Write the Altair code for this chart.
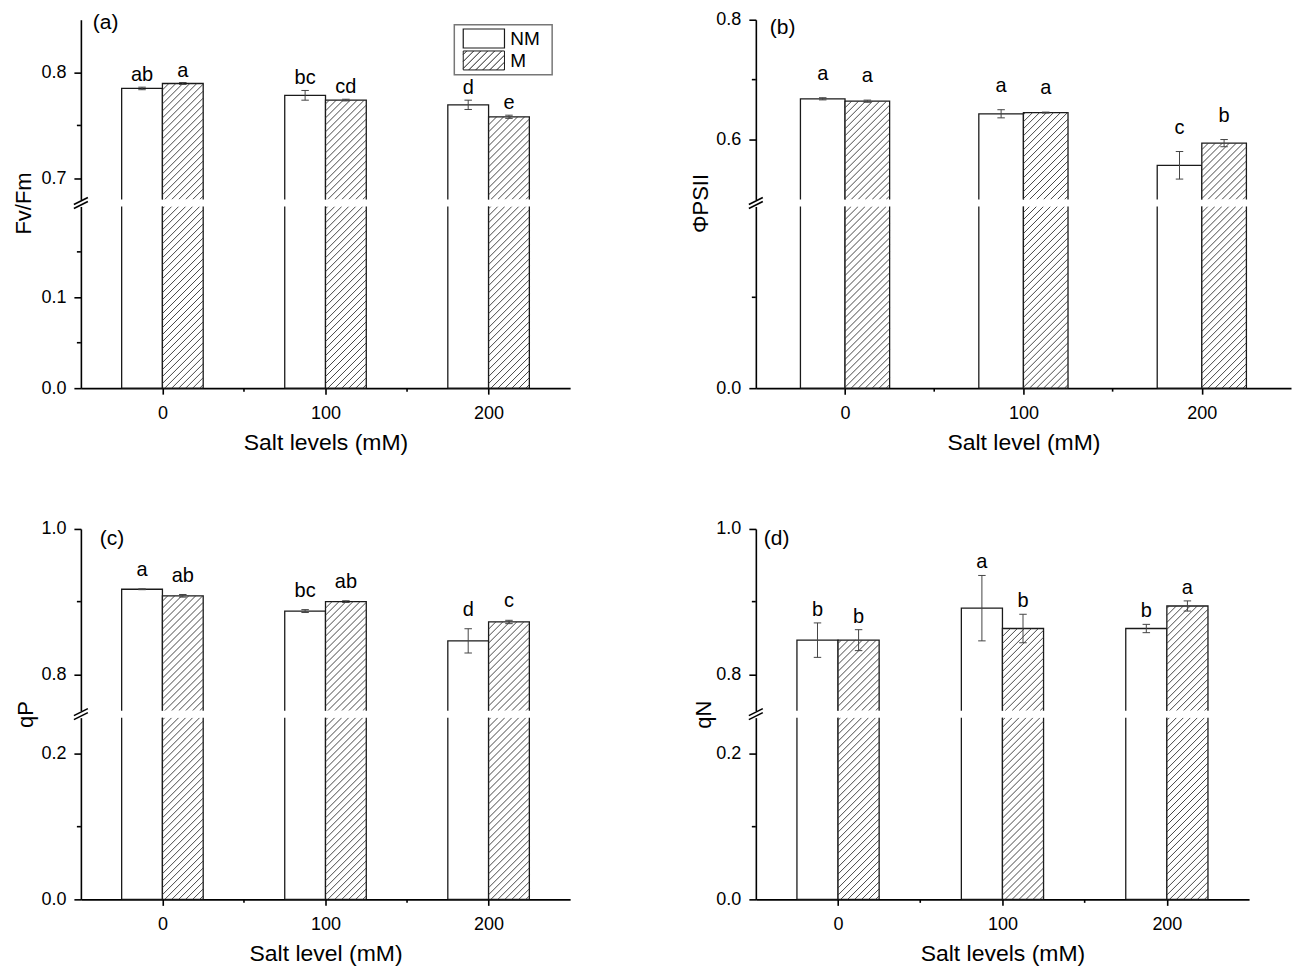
import altair as alt
import pandas as pd

# ---------------- data ----------------
salt_levels = [0, 100, 200]
treatments = ["NM", "M"]

fvfm_nm = [0.785, 0.7785, 0.7695]
fvfm_nm_err = [0.0012, 0.0046, 0.0044]
fvfm_m = [0.7897, 0.774, 0.7582]
fvfm_m_err = [0.0009, 0.0008, 0.0015]
fvfm_nm_letters = ["ab", "bc", "d"]
fvfm_m_letters = ["a", "cd", "e"]

phi_nm = [0.668, 0.643, 0.557]
phi_nm_err = [0.0018, 0.0068, 0.023]
phi_m = [0.664, 0.645, 0.594]
phi_m_err = [0.0018, 0.0008, 0.006]
phi_nm_letters = ["a", "a", "c"]
phi_m_letters = ["a", "a", "b"]

qp_nm = [0.917, 0.887, 0.846]
qp_nm_err = [0.0006, 0.002, 0.0167]
qp_m = [0.908, 0.900, 0.872]
qp_m_err = [0.0018, 0.0012, 0.0023]
qp_nm_letters = ["a", "bc", "d"]
qp_m_letters = ["ab", "ab", "c"]

qn_nm = [0.847, 0.891, 0.863]
qn_nm_err = [0.0237, 0.045, 0.0057]
qn_m = [0.847, 0.863, 0.894]
qn_m_err = [0.0144, 0.0196, 0.007]
qn_nm_letters = ["b", "a", "b"]
qn_m_letters = ["b", "b", "a"]

x_ticks = [0, 100, 200]
x_minor_ticks = [50, 150]

# ---------------- layout / style ----------------
FONT = "Liberation Sans"
GAP = 7
H_LO = 182
ROW_GAP = 141
COL_GAP = 186
BAR_W = 25
HATCH_STEP = 7.0
INK = "#1a1a1a"

panels = [
    dict(tag="(a)", ylabel="Fv/Fm", xlabel="Salt levels (mM)",
         nm=fvfm_nm, nm_err=fvfm_nm_err, m=fvfm_m, m_err=fvfm_m_err,
         nm_let=fvfm_nm_letters, m_let=fvfm_m_letters,
         up_dom=[0.68, 0.85], up_major=[0.7, 0.8], up_minor=[0.75],
         lo_dom=[0.0, 0.2], lo_major=[0.0, 0.1], lo_minor=[0.05, 0.15],
         W=490, H=180, tx=-57, dy=6, lx=12, ly=3, legend=True),
    dict(tag="(b)", ylabel="ΦPSII", xlabel="Salt level (mM)",
         nm=phi_nm, nm_err=phi_nm_err, m=phi_m, m_err=phi_m_err,
         nm_let=phi_nm_letters, m_let=phi_m_letters,
         up_dom=[0.5, 0.8], up_major=[0.6, 0.8], up_minor=[0.7],
         lo_dom=[0.0, 0.2], lo_major=[0.0], lo_minor=[0.1],
         W=536, H=180, tx=-55, dy=18, lx=14, ly=8, legend=False),
    dict(tag="(c)", ylabel="qP", xlabel="Salt level (mM)",
         nm=qp_nm, nm_err=qp_nm_err, m=qp_m, m_err=qp_m_err,
         nm_let=qp_nm_letters, m_let=qp_m_letters,
         up_dom=[0.75, 1.0], up_major=[0.8, 1.0], up_minor=[0.9],
         lo_dom=[0.0, 0.25], lo_major=[0.0, 0.2], lo_minor=[0.1],
         W=490, H=182, tx=-55, dy=13, lx=19, ly=10, legend=False),
    dict(tag="(d)", ylabel="qN", xlabel="Salt levels (mM)",
         nm=qn_nm, nm_err=qn_nm_err, m=qn_m, m_err=qn_m_err,
         nm_let=qn_nm_letters, m_let=qn_m_letters,
         up_dom=[0.75, 1.0], up_major=[0.8, 1.0], up_minor=[0.9],
         lo_dom=[0.0, 0.25], lo_major=[0.0, 0.2], lo_minor=[0.1],
         W=494, H=182, tx=-52, dy=7, lx=8, ly=10, legend=False),
]


def hatch(x0, x1, ylo, yhi, kx, ky, step=HATCH_STEP):
    """45-degree '/' hatch lines clipped to the bar rectangle (data units)."""
    w = (x1 - x0) * kx
    h = (yhi - ylo) * ky
    segs = []
    c = -w + step / 2.0
    while c < h:
        xs = max(0.0, -c)
        xe = min(w, h - c)
        if xe > xs:
            segs.append(dict(hx1=x0 + xs / kx, hy1=ylo + (xs + c) / ky,
                             hx2=x0 + xe / kx, hy2=ylo + (xe + c) / ky))
        c += step
    return segs


def symbol_paths():
    hy = 0.46
    rect = f"M-1,-{hy}H1V{hy}H-1Z"
    step = HATCH_STEP / 20.65
    hatch_p = rect
    c = -1 - hy + step / 2
    while c < 1 + hy:
        xs = max(-1.0, c - hy)
        xe = min(1.0, c + hy)
        if xe > xs:
            hatch_p += f"M{xs:.3f},{c - xs:.3f}L{xe:.3f},{c - xe:.3f}"
        c += step
    return rect, hatch_p


RECT_PATH, HATCH_PATH = symbol_paths()
one_row = pd.DataFrame({"k": [0]})


def axis_common():
    return dict(grid=False, domainColor="black", tickColor="black",
                domainWidth=1.6, tickWidth=1.6, labelColor="black",
                labelFontSize=18, labelFont=FONT, titleFont=FONT,
                titleColor="black", titleFontWeight="normal")


def make_panel(p):
    W, H = p["W"], p["H"]
    kx = W / 300.0
    rows = []
    for i, s in enumerate(salt_levels):
        for g, vals, errs, lets, off in (
            ("NM", p["nm"], p["nm_err"], p["nm_let"], -BAR_W),
            ("M", p["m"], p["m_err"], p["m_let"], 0),
        ):
            rows.append(dict(salt=s, group=g, value=vals[i], err=errs[i],
                             letter=lets[i], x0=s + off, x1=s + off + BAR_W,
                             xc=s + off + BAR_W / 2, lo=vals[i] - errs[i],
                             hi=vals[i] + errs[i], zero=0.0))
    df = pd.DataFrame(rows)

    ud0, ud1 = p["up_dom"]
    ld0, ld1 = p["lo_dom"]
    ky_u = H / (ud1 - ud0)
    ky_l = H_LO / (ld1 - ld0)
    hu, hl = [], []
    for r in rows:
        if r["group"] == "M":
            hu += hatch(r["x0"], r["x1"], ud0, r["value"], kx, ky_u)
            hl += hatch(r["x0"], r["x1"], ld0, ld1, kx, ky_l)
    hu = pd.DataFrame(hu)
    hl = pd.DataFrame(hl)

    xs = alt.Scale(domain=[-50, 250], nice=False, zero=False)
    ysu = alt.Scale(domain=p["up_dom"], nice=False, zero=False)
    ysl = alt.Scale(domain=p["lo_dom"], nice=False, zero=False)

    yaxis_u = alt.Axis(values=p["up_major"], format=".1f", title=p["ylabel"],
                       titleX=p["tx"], titleY=H + GAP / 2, titleBaseline="middle",
                       titleAngle=270, titleFontSize=22, tickSize=7,
                       labelPadding=8, **axis_common())
    yaxis_l = alt.Axis(values=p["lo_major"], format=".1f", title=None,
                       tickSize=7, labelPadding=8, **axis_common())
    xaxis_l = alt.Axis(values=x_ticks, format="d", title=p["xlabel"],
                       titleX=W / 2, titleY=54, titleBaseline="middle",
                       titleFontSize=23, tickSize=6, labelPadding=10,
                       **axis_common())

    def XU(f):
        return alt.X(f, type="quantitative", scale=xs, axis=None)

    def YU(f):
        return alt.Y(f, type="quantitative", scale=ysu, axis=yaxis_u)

    def XL(f):
        return alt.X(f, type="quantitative", scale=xs, axis=xaxis_l)

    def YL(f):
        return alt.Y(f, type="quantitative", scale=ysl, axis=yaxis_l)

    # ---------- upper segment ----------
    bars_u = alt.Chart(df).mark_rect(fill="white", stroke=INK, strokeWidth=1.3,
                                     clip=True).encode(
        x=XU("x0"), x2=alt.X2("x1"), y=YU("value"), y2=alt.Y2("zero"))
    hatch_u = alt.Chart(hu).mark_rule(stroke="#333333", strokeWidth=0.9,
                                      clip=True).encode(
        x=XU("hx1"), y=YU("hy1"), x2=alt.X2("hx2"), y2=alt.Y2("hy2"))
    err = alt.Chart(df).mark_rule(stroke="#444444", strokeWidth=1).encode(
        x=XU("xc"), y=YU("lo"), y2=alt.Y2("hi"))
    cap_lo = alt.Chart(df).mark_point(shape="M-1,0L1,0", size=56, filled=False,
                                      stroke="#444444", strokeWidth=1,
                                      opacity=1).encode(x=XU("xc"), y=YU("lo"))
    cap_hi = alt.Chart(df).mark_point(shape="M-1,0L1,0", size=56, filled=False,
                                      stroke="#444444", strokeWidth=1,
                                      opacity=1).encode(x=XU("xc"), y=YU("hi"))
    letters = alt.Chart(df).mark_text(fontSize=20, font=FONT, baseline="alphabetic",
                                      dy=-p["dy"], color="black").encode(
        x=XU("xc"), y=YU("hi"), text="letter:N")
    minor_u = alt.Chart(pd.DataFrame({"v": p["up_minor"]})).mark_rule(
        stroke="black", strokeWidth=1.6).encode(
        y=YU("v"), x=alt.value(0), x2=alt.value(-4))
    tag = alt.Chart(pd.DataFrame({"t": [p["tag"]]})).mark_text(
        fontSize=21, font=FONT, align="left", baseline="middle",
        color="black").encode(x=alt.value(p["lx"]), y=alt.value(p["ly"]),
                              text="t:N")
    c1 = H + 1.5
    c2 = H + GAP - 1.5
    brk1 = alt.Chart(one_row).mark_rule(stroke="black", strokeWidth=1.6).encode(
        x=alt.value(-7), x2=alt.value(7), y=alt.value(c1 + 3.5), y2=alt.value(c1 - 3.5))
    brk2 = alt.Chart(one_row).mark_rule(stroke="black", strokeWidth=1.6).encode(
        x=alt.value(-7), x2=alt.value(7), y=alt.value(c2 + 3.5), y2=alt.value(c2 - 3.5))

    layers = [bars_u, hatch_u, err, cap_lo, cap_hi, letters, minor_u, tag, brk1, brk2]

    if p["legend"]:
        frame = alt.Chart(one_row).mark_rect(fill="white", stroke="#777777",
                                             strokeWidth=1.5).encode(
            x=alt.value(374), x2=alt.value(472), y=alt.value(5), y2=alt.value(55))
        sym_nm = alt.Chart(one_row).mark_point(
            shape=RECT_PATH, size=1706, filled=True, fill="white", stroke=INK,
            strokeWidth=1.2, opacity=1).encode(x=alt.value(403.6), y=alt.value(18.8))
        sym_m = alt.Chart(one_row).mark_point(
            shape=HATCH_PATH, size=1706, filled=True, fill="white", stroke=INK,
            strokeWidth=1.0, opacity=1).encode(x=alt.value(403.6), y=alt.value(40.8))
        txt_nm = alt.Chart(pd.DataFrame({"t": [treatments[0]]})).mark_text(
            fontSize=19, font=FONT, align="left", baseline="middle",
            color="black").encode(x=alt.value(430), y=alt.value(19), text="t:N")
        txt_m = alt.Chart(pd.DataFrame({"t": [treatments[1]]})).mark_text(
            fontSize=19, font=FONT, align="left", baseline="middle",
            color="black").encode(x=alt.value(430), y=alt.value(41.5), text="t:N")
        layers += [frame, sym_nm, sym_m, txt_nm, txt_m]

    upper = alt.layer(*layers).properties(width=W, height=H)

    # ---------- lower segment ----------
    bars_l = alt.Chart(df).mark_rect(fill="white", stroke=INK, strokeWidth=1.3,
                                     clip=True).encode(
        x=XL("x0"), x2=alt.X2("x1"), y=YL("value"), y2=alt.Y2("zero"))
    hatch_l = alt.Chart(hl).mark_rule(stroke="#333333", strokeWidth=0.9,
                                      clip=True).encode(
        x=XL("hx1"), y=YL("hy1"), x2=alt.X2("hx2"), y2=alt.Y2("hy2"))
    minor_l = alt.Chart(pd.DataFrame({"v": p["lo_minor"]})).mark_rule(
        stroke="black", strokeWidth=1.6).encode(
        y=YL("v"), x=alt.value(0), x2=alt.value(-4))
    minor_x = alt.Chart(pd.DataFrame({"v": x_minor_ticks})).mark_rule(
        stroke="black", strokeWidth=1.6).encode(
        x=XL("v"), y=alt.value(H_LO), y2=alt.value(H_LO + 3.5))
    lower = alt.layer(bars_l, hatch_l, minor_l, minor_x).properties(width=W, height=H_LO)

    return upper, lower


def spacer(h):
    return alt.Chart(one_row).mark_point(opacity=0).encode(
        x=alt.value(0), y=alt.value(0)).properties(width=10, height=h)


(ua, la), (ub, lb), (uc, lc), (ud, ld) = [make_panel(p) for p in panels]
sp = ROW_GAP - 2 * GAP

chart = alt.concat(
    ua, ub, la, lb, spacer(sp), spacer(sp), uc, ud, lc, ld,
    columns=2, spacing={"row": GAP, "column": COL_GAP}, bounds="flush",
).resolve_scale(
    x="independent", y="independent"
).properties(
    padding={"left": 5, "top": 2, "right": 2, "bottom": 2}
).configure_view(stroke=None).configure_text(font=FONT)

chart.save("out.html", embed_options={"renderer": "svg", "actions": False})
